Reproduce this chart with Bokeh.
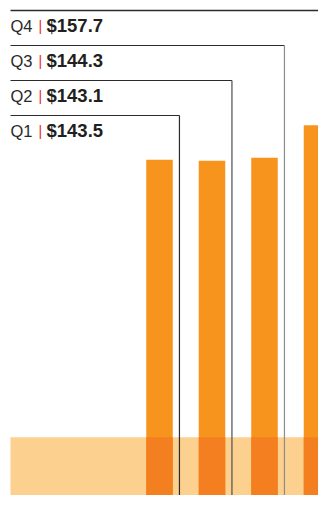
from bokeh.plotting import figure
from bokeh.models import ColumnDataSource, Range1d
from bokeh.core.properties import value
from bokeh.embed import file_html
from bokeh.resources import INLINE

# ---- data ----
quarters = ["Q1", "Q2", "Q3", "Q4"]
revenue = [143.5, 143.1, 144.3, 157.7]
revenue_labels = ["$143.5", "$143.1", "$144.3", "$157.7"]
band_top = 29.0

# ---- layout constants (pixels) ----
W, H = 318, 495
PX_PER_UNIT_Y = 2.424
BASE_PX_Y = 507
BAR_SPACING = 52.5
FIRST_BAR_PX_X = 159


def fx(px):
    return (px - FIRST_BAR_PX_X) / BAR_SPACING


def fy(py):
    return (BASE_PX_Y - py) / PX_PER_UNIT_Y


p = figure(width=W, height=H, output_backend="svg", toolbar_location=None,
           x_range=Range1d(fx(0), fx(W)),
           y_range=Range1d(fy(H), fy(0)),
           x_axis_location=None, y_axis_location=None,
           min_border=0, outline_line_color=None)
p.grid.visible = False
p.background_fill_color = "white"
p.border_fill_color = "white"

idx = list(range(len(quarters)))
bar_w = 0.505

# pale band
p.quad(left=[fx(10)], right=[fx(400)], bottom=[0], top=[band_top],
       fill_color="#FCD08F", line_color=None)

# bars
src = ColumnDataSource(dict(x=idx, top=revenue,
                            low=[min(band_top, r) for r in revenue]))
p.vbar(x="x", top="top", bottom=0, width=bar_w, source=src,
       fill_color="#F7941D", line_color=None)
p.vbar(x="x", top="low", bottom=0, width=bar_w, source=src,
       fill_color="#F47F20", line_color=None)

# connectors
line_y = [fy(115 - 35 * i) for i in idx]
vx = [i + 0.38 for i in idx]
vcolors = ["#2b2b2b", "#4d4d4d", "#8c8c8c", "#333333"]
hwidth = [1.1, 1.1, 1.1, 1.6]
p.segment(x0=[fx(10)] * 4, y0=line_y, x1=vx, y1=line_y,
          line_color="#2b2b2b", line_width=hwidth)
p.segment(x0=vx, y0=line_y, x1=vx, y1=[fy(530)] * 4,
          line_color=vcolors, line_width=1.2)

# labels
base_y = [fy(115 - 35 * i + 15) for i in idx]
p.text(x=[fx(10)] * 4, y=base_y, text=quarters,
       text_font=value("Liberation Sans"), text_font_size="16.5px",
       text_color="#2a2a2a", text_baseline="alphabetic", text_align="left")
p.text(x=[fx(38)] * 4, y=base_y, text=["|"] * 4,
       text_font=value("Liberation Sans"), text_font_size="14px",
       text_color="#E8292B", text_baseline="alphabetic", text_align="left")
p.text(x=[fx(46)] * 4, y=base_y, text=revenue_labels,
       text_font=value("Liberation Sans"), text_font_size="18.5px",
       text_font_style="bold",
       text_color="#231f20", text_baseline="alphabetic", text_align="left")

open("out.html", "w").write(file_html(p, INLINE))
